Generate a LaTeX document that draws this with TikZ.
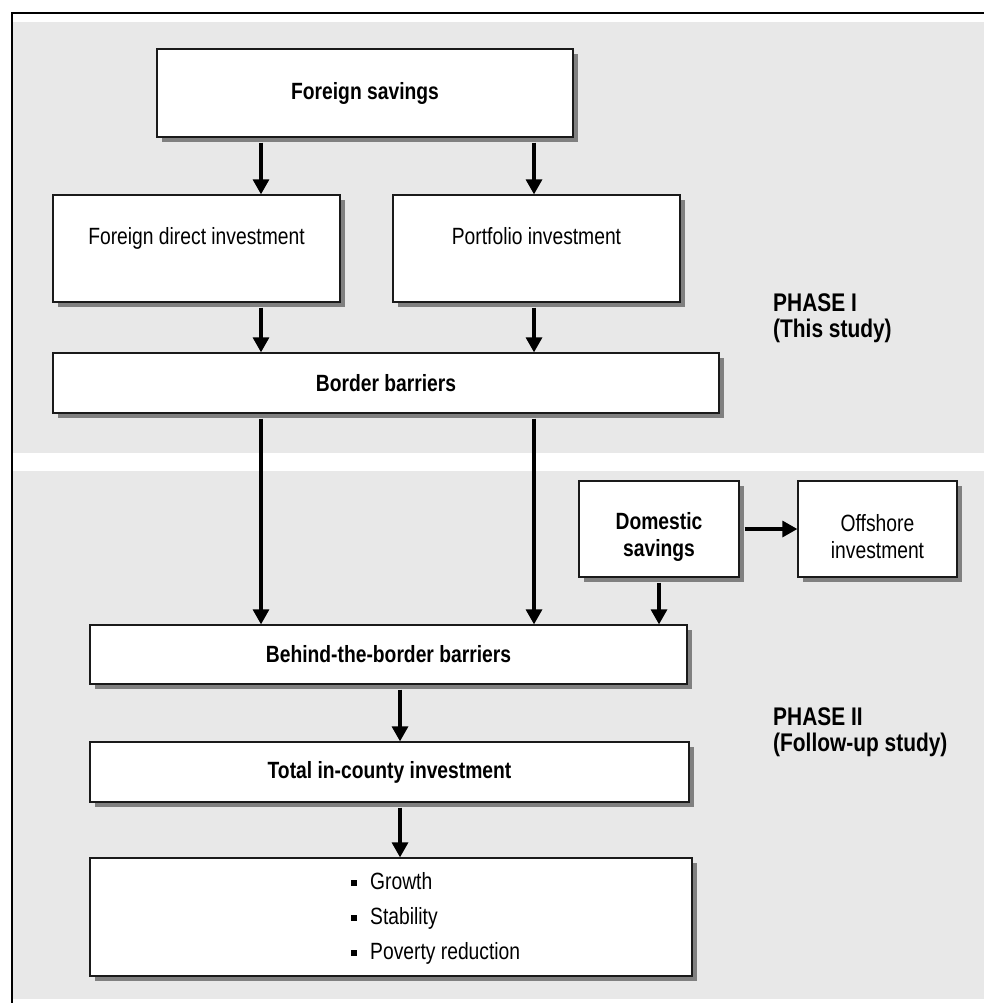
\documentclass[tikz,border=0pt]{standalone}
\usepackage{fontspec}
\setmainfont{Liberation Sans}[FakeStretch=0.82]
\usetikzlibrary{positioning,shadows,arrows.meta}
\definecolor{panel}{HTML}{E8E8E8}
\definecolor{shade}{HTML}{808080}
\definecolor{edge}{HTML}{1A1A1A}
\newcommand{\itemsq}{\rule[3pt]{6pt}{6pt}\hspace{13pt}}
\newcommand{\lowstrut}{\rule{0pt}{32pt}}
\tikzset{box/.style={draw=edge, fill=white, line width=1.3pt, inner sep=0pt, align=center,
    font=\fontsize{23.5}{27}\selectfont,
    general shadow={fill=shade, shadow xshift=5pt, shadow yshift=-5pt}},
  key/.style={box, font=\fontsize{23.5}{27}\selectfont\bfseries},
  flow/.style={-{Triangle[width=16pt,length=15pt]}, line width=3.2pt, shorten <=5pt},
  phase/.style={anchor=west, align=left, inner sep=0pt, font=\fontsize{25.5}{26}\selectfont\bfseries},
  list/.style={anchor=west, align=left, inner sep=0pt, font=\fontsize{23.5}{35}\selectfont}}

\begin{document}
\begin{tikzpicture}[x=1pt, y=-1pt]
\useasboundingbox (0,0) rectangle (984,1003);
% panels and frame
\fill[panel] (13,22) rectangle (984,453);
\fill[panel] (13,471) rectangle (984,999);
\draw[line width=1.5pt] (12,1003) -- (12,13) -- (984,13);

% phase I
\node[key, minimum width=416pt, minimum height=88pt] (FS) at (365,93) {Foreign savings};
\node[box, minimum width=287pt, minimum height=107pt, text depth=25pt] (FDI) at (196.5,248.5) {Foreign direct investment};
\node[box, minimum width=287pt, minimum height=107pt, text depth=25pt] (PI) at (536.5,248.5) {Portfolio investment};
\node[key, minimum width=666pt, minimum height=60pt] (BB) at (386,383) {Border barriers};
\node[phase] (P1) at (773,318) {PHASE I\\(This study)};

% phase II
\node[key, minimum width=160pt, minimum height=96pt] (DS) at (659,529) {\lowstrut Domestic\\savings};
\node[box, minimum width=159pt, minimum height=96pt] (OI) at (877.5,529) {\lowstrut Offshore\\investment};
\node[key, minimum width=597pt, minimum height=59pt] (BTB) at (388.5,654.5) {Behind-the-border barriers};
\node[key, minimum width=599pt, minimum height=60pt] (TCI) at (389.5,772) {Total in-county investment};
\node[box, minimum width=602pt, minimum height=118pt] (OUT) at (391,917) {};
\node[list] (items) at (351,918) {\itemsq Growth\\\itemsq Stability\\\itemsq Poverty reduction};
\node[phase] (P2) at (773,732) {PHASE II\\(Follow-up study)};

% arrows
\coordinate (colA) at (261,0);
\coordinate (colB) at (534,0);
\coordinate (colC) at (400,0);
\foreach \a/\b/\c in {FS/FDI/colA, FS/PI/colB, FDI/BB/colA, PI/BB/colB,
    BB/BTB/colA, BB/BTB/colB, BTB/TCI/colC, TCI/OUT/colC}
  \draw[flow] (\a.south -| \c) -- (\b.north -| \c);
\draw[flow] (DS.south) -- (BTB.north -| DS.south);
\draw[flow] (DS.east) -- (OI.west);
\end{tikzpicture}
\end{document}
